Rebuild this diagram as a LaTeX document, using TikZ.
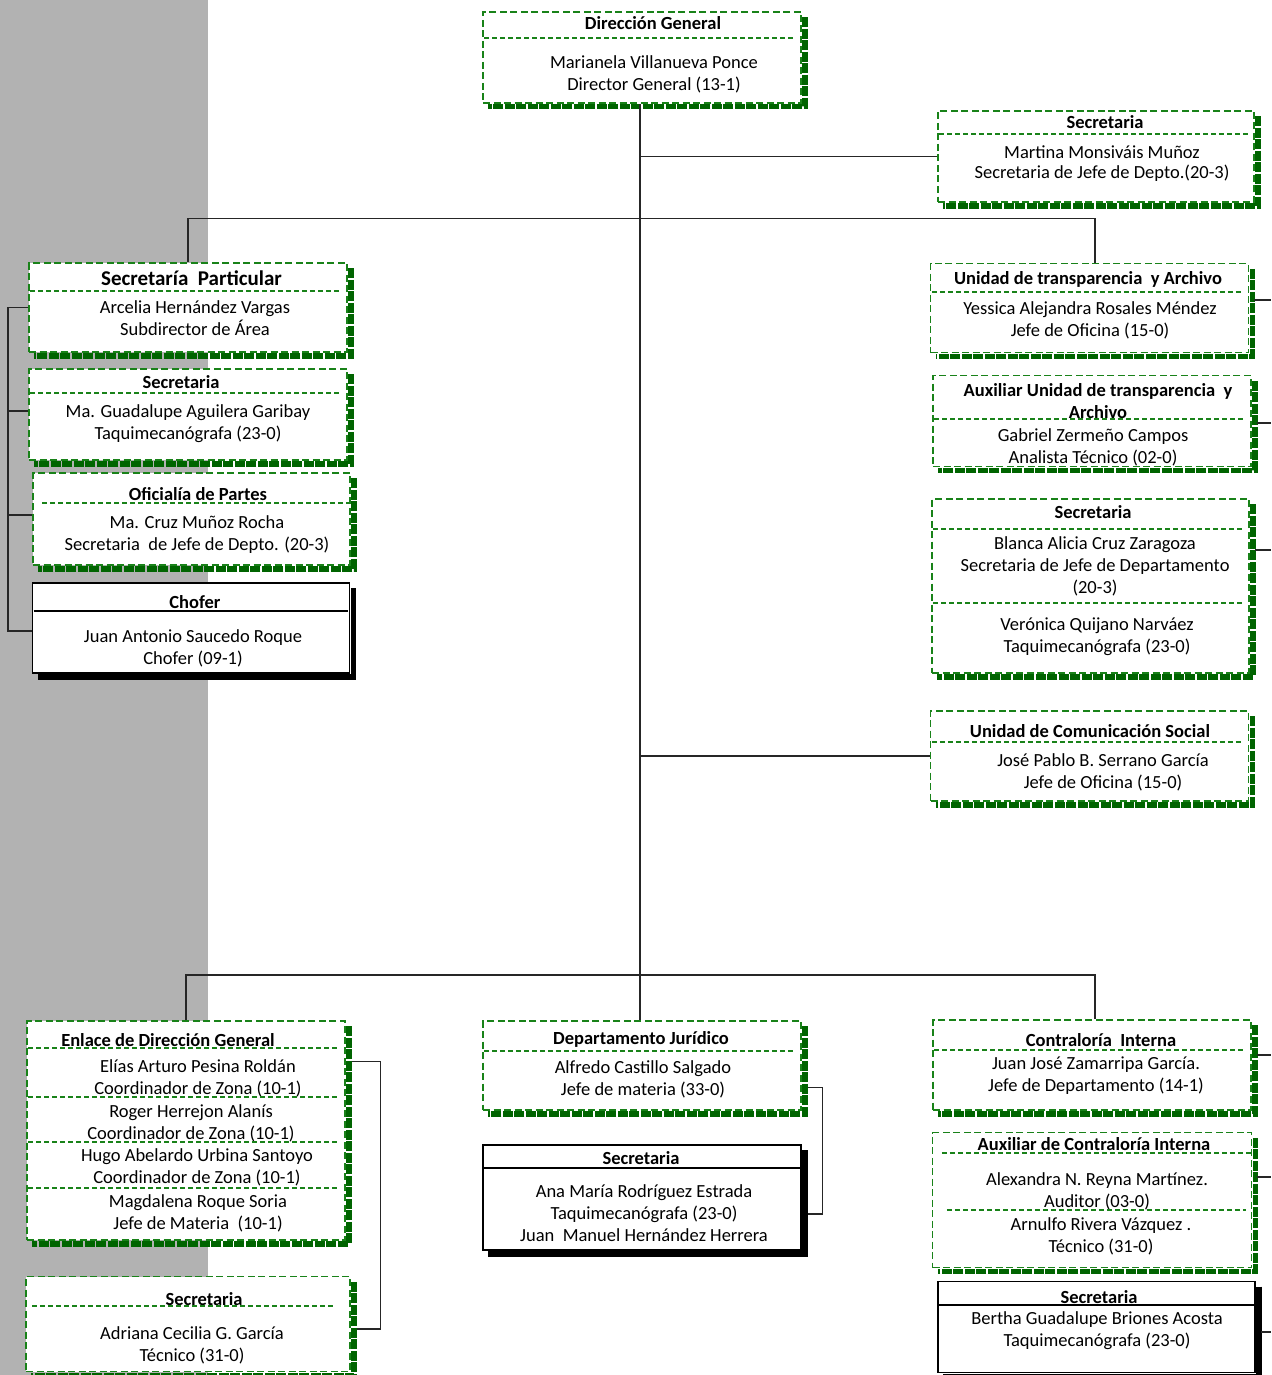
\documentclass[tikz,border=0pt]{standalone}
\usepackage{fontspec}
\setmainfont{Carlito}
\usepackage{xcolor}
\usepackage{tikz}
\pgfdeclarelayer{bg}
\pgfsetlayers{bg,main}
\definecolor{boxgreen}{RGB}{25,130,25}
\definecolor{shadegreen}{RGB}{0,100,0}
\definecolor{sidegray}{RGB}{178,178,178}
\tikzset{
  gbox/.style={draw=boxgreen, line width=1.5pt, dash pattern=on 7pt off 3.5pt, fill=white, inner sep=0pt},
  kbox/.style={draw=black, line width=1.6pt, fill=white, inner sep=0pt},
  dims/.style 2 args={minimum width=#1pt, minimum height=#2pt},
  gsep/.style={draw=boxgreen, line width=1.2pt, dash pattern=on 5pt off 3pt},
  ksep/.style={draw=black, line width=1.2pt},
  gshade/.style={draw=shadegreen, line width=5.5pt, dash pattern=on 10pt off 1.5pt},
  kshade/.style={draw=black, line width=5.5pt},
  conn/.style={draw=black!85, line width=1.3pt},
  txt/.style={inner sep=0pt, align=center, yshift=-1pt, font=\fontsize{18.5}{22}\selectfont},
  ttl/.style={inner sep=0pt, align=center, yshift=-1pt, font=\fontsize{18.5}{22}\selectfont\bfseries}
}
\begin{document}
\begin{tikzpicture}[x=1pt, y=-1pt]
  \useasboundingbox (0,0) rectangle (1271,1375);

  % direccion
  \node[gbox, dims={318}{91}] (dg) at (642,57.5) {};
  \node[ttl] (dg-t) at (653,22) {Dirección General};
  \node[txt] (dg-b) at (654,73) {Marianela Villanueva Ponce\\Director General (13-1)};

  \node[gbox, dims={316}{91}] (sec1) at (1096,156.5) {};
  \node[ttl] (sec1-t) at (1105,121) {Secretaria};
  \node[txt, font=\fontsize{18.5}{19.5}\selectfont] (sec1-b) at (1102,162.5) {Martina Monsiváis Muñoz\\Secretaria de Jefe de Depto.(20-3)};

  % columna izquierda
  \node[gbox, dims={318}{89}] (sp) at (188,307.5) {};
  \node[ttl, font=\fontsize{21}{25}\selectfont\bfseries] (sp-t) at (191.5,277) {Secretaría\ \ Particular};
  \node[txt] (sp-b) at (195,317.5) {Arcelia Hernández Vargas\\Subdirector de Área};

  \node[gbox, dims={318}{91}] (sec2) at (188,414.5) {};
  \node[ttl] (sec2-t) at (181,381) {Secretaria};
  \node[txt] (sec2-b) at (188,423) {Ma. Guadalupe Aguilera Garibay\\Taquimecanógrafa (23-0)};

  \node[gbox, dims={317}{92}] (op) at (191.5,519) {};
  \node[ttl] (op-t) at (198,493) {Oficialía de Partes};
  \node[txt] (op-b) at (197,533.5) {Ma. Cruz Muñoz Rocha\\Secretaria\ \ de Jefe de Depto. (20-3)};

  \node[kbox, dims={317}{90}] (chofer) at (191,628) {};
  \node[ttl] (chofer-t) at (195,601) {Chofer};
  \node[txt] (chofer-b) at (193,647) {Juan Antonio Saucedo Roque\\Chofer (09-1)};

  % columna derecha
  \node[gbox, dims={318}{89}] (ut) at (1089.5,308) {};
  \node[ttl] (ut-t) at (1088,278) {Unidad de transparencia\ \ y Archivo};
  \node[txt] (ut-b) at (1090,319) {Yessica Alejandra Rosales Méndez\\Jefe de Oficina (15-0)};

  \node[gbox, dims={318}{91}] (aut) at (1092,421) {};
  \node[ttl] (aut-t) at (1098,400) {Auxiliar Unidad de transparencia\ \ y\\Archivo};
  \node[txt] (aut-b) at (1093,446.5) {Gabriel Zermeño Campos\\Analista Técnico (02-0)};

  \node[gbox, dims={317}{174}] (sec3) at (1090.5,586) {};
  \node[ttl] (sec3-t) at (1093,511) {Secretaria};
  \node[txt] (sec3-b) at (1095,565.5) {Blanca Alicia Cruz Zaragoza\\Secretaria de Jefe de Departamento\\(20-3)};
  \node[txt] (sec3-c) at (1097,636) {Verónica Quijano Narváez\\Taquimecanógrafa (23-0)};

  \node[gbox, dims={318}{90}] (ucs) at (1089.5,756) {};
  \node[ttl] (ucs-t) at (1090,730) {Unidad de Comunicación Social};
  \node[txt] (ucs-b) at (1103,771.5) {José Pablo B. Serrano García\\Jefe de Oficina (15-0)};

  % abajo
  \node[gbox, dims={318}{219}] (edg) at (186,1130.5) {};
  \node[ttl] (edg-t) at (168,1039) {Enlace de Dirección General};
  \node[txt] (edg-b1) at (198,1077) {Elías Arturo Pesina Roldán\\Coordinador de Zona (10-1)};
  \node[txt] (edg-b2) at (191,1122) {Roger Herrejon Alanís\\Coordinador de Zona (10-1)};
  \node[txt] (edg-b3) at (197,1166) {Hugo Abelardo Urbina Santoyo\\Coordinador de Zona (10-1)};
  \node[txt] (edg-b4) at (198,1212.5) {Magdalena Roque Soria\\Jefe de Materia\ \ (10-1)};

  \node[gbox, dims={324}{95}] (sec4) at (188,1324) {};
  \node[ttl] (sec4-t) at (204,1298) {Secretaria};
  \node[txt] (sec4-b) at (192,1344) {Adriana Cecilia G. García\\Técnico (31-0)};

  \node[gbox, dims={318}{89}] (dj) at (642,1065.5) {};
  \node[ttl] (dj-t) at (641,1038) {Departamento Jurídico};
  \node[txt] (dj-b) at (643,1078) {Alfredo Castillo Salgado\\Jefe de materia (33-0)};

  \node[kbox, dims={318}{105}] (sec5) at (642,1197.5) {};
  \node[ttl] (sec5-t) at (641,1157) {Secretaria};
  \node[txt] (sec5-b) at (644,1212) {Ana María Rodríguez Estrada\\Taquimecanógrafa (23-0)\\Juan\ \ Manuel Hernández Herrera};

  \node[gbox, dims={318}{90}] (ci) at (1092,1065) {};
  \node[ttl] (ci-t) at (1101,1039) {Contraloría\ \ Interna};
  \node[txt] (ci-b) at (1096,1074.5) {Juan José Zamarripa García.\\Jefe de Departamento (14-1)};

  \node[gbox, dims={319}{135}] (aci) at (1092,1200) {};
  \node[ttl] (aci-t) at (1094,1143) {Auxiliar de Contraloría Interna};
  \node[txt] (aci-b) at (1097,1190) {Alexandra N. Reyna Martínez.\\Auditor (03-0)};
  \node[txt] (aci-c) at (1101,1235.5) {Arnulfo Rivera Vázquez .\\Técnico (31-0)};

  \node[kbox, dims={317}{91}] (sec6) at (1096.5,1327) {};
  \node[ttl] (sec6-t) at (1099,1296) {Secretaria};
  \node[txt] (sec6-b) at (1097,1329.5) {Bertha Guadalupe Briones Acosta\\Taquimecanógrafa (23-0)};

  % separadores
  \foreach \n/\y in {dg/38, sec1/134, sp/291, sec2/393, ut/292, aut/419, sec3/529, sec3/603,
                     ucs/742, edg/1048, edg/1097, edg/1142, edg/1188, dj/1051, ci/1050}
    \draw[gsep] ([xshift=2pt]\n.west |- 0,\y) -- ([xshift=-6pt]\n.east |- 0,\y);
  \draw[gsep] ([xshift=10pt]op.west |- 0,503) -- (op.east |- 0,503);
  \draw[gsep] ([xshift=7pt]sec4.west |- 0,1306) -- ([xshift=-17pt]sec4.east |- 0,1306);
  \draw[gsep] ([xshift=10pt]aci.west |- 0,1153) -- (aci.east |- 0,1153);
  \draw[gsep] ([xshift=15pt]aci.west |- 0,1210) -- ([xshift=-6pt]aci.east |- 0,1210);
  \foreach \n/\y in {chofer/611, sec5/1168, sec6/1305}
    \draw[ksep] ([xshift=2pt]\n.west |- 0,\y) -- ([xshift=-2pt]\n.east |- 0,\y);

  % lineas
  \coordinate (jb) at (640,975);
  \coordinate (lb) at (8,0);
  \coordinate (re) at (1271,0);
  \draw[conn] (dg.south -| jb) -- (jb);
  \draw[conn] (sec1.west) -- (sec1.west -| jb);
  \draw[conn] (sp.north) -- ++(0,-44) -| ([xshift=5.5pt]ut.north);
  \draw[conn] (ucs.west) -- (ucs.west -| jb);
  \draw[conn] (edg.north) -- (edg.north |- jb) -| ([xshift=3pt]ci.north);
  \draw[conn] (jb) -- (dj.north -| jb);
  \draw[conn] (sp.west) -- (sp.west -| lb) -- ([yshift=-3pt]chofer.west -| lb) -- ([yshift=-3pt]chofer.west);
  \draw[conn] ([yshift=3.5pt]sec2.west) -- ([yshift=3.5pt]sec2.west -| lb);
  \draw[conn] ([yshift=4pt]op.west) -- ([yshift=4pt]op.west -| lb);
  \draw[conn] ([xshift=6pt,yshift=-41pt]edg.north east) -| ([xshift=30pt,yshift=-5pt]sec4.east) -- ([xshift=6pt,yshift=-5pt]sec4.east);
  \draw[conn] ([xshift=6pt,yshift=-67pt]dj.north east) -| ([xshift=21pt,yshift=-16.5pt]sec5.east) -- ([xshift=6pt,yshift=-16.5pt]sec5.east);
  \foreach \n/\d in {ut/8, aut/-2, sec3/36, ci/10, aci/23, sec6/-5}
    \draw[conn] ([xshift=5pt,yshift=\d pt]\n.east) -- ([yshift=\d pt]\n.east -| re);

  \begin{pgfonlayer}{bg}
    \fill[sidegray] (0,0) rectangle (208,1375);
    \foreach \n in {dg, sec1, sp, sec2, op, ut, aut, sec3, ucs, edg, sec4, dj, ci, aci}
      \draw[gshade] ([xshift=3pt,yshift=-6pt]\n.north east) -- ([xshift=3pt,yshift=-3pt]\n.south east) -- ([xshift=6pt,yshift=-3pt]\n.south west);
    \foreach \n in {chofer, sec5, sec6}
      \draw[kshade] ([xshift=3pt,yshift=-6pt]\n.north east) -- ([xshift=3pt,yshift=-3pt]\n.south east) -- ([xshift=6pt,yshift=-3pt]\n.south west);
  \end{pgfonlayer}
\end{tikzpicture}
\end{document}
